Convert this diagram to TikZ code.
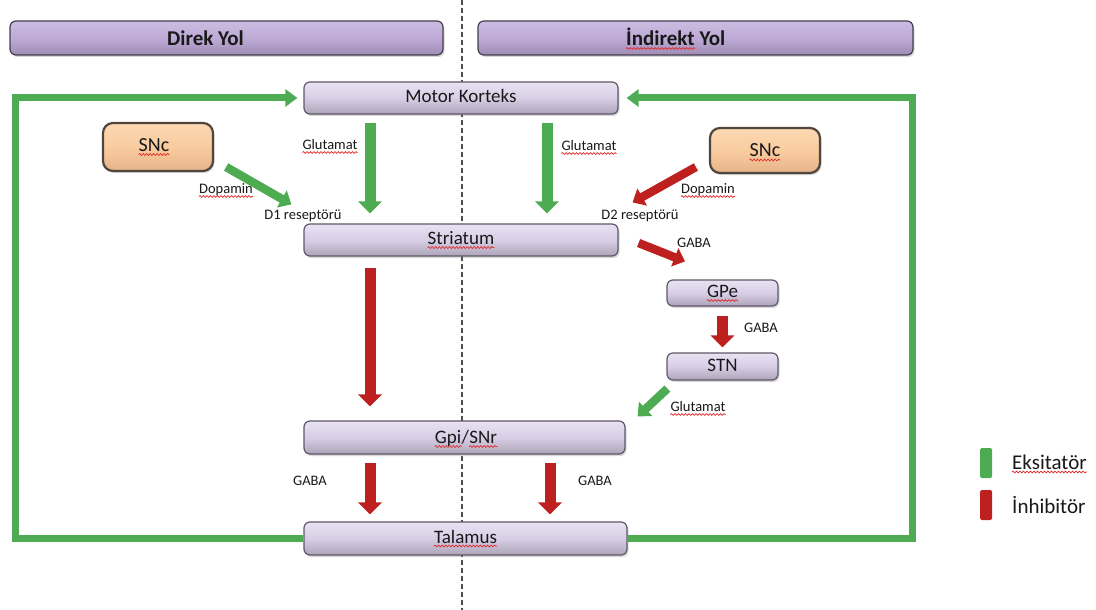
\documentclass[tikz,border=0pt]{standalone}
\usepackage{fontspec}
\setmainfont{Carlito}
\usetikzlibrary{arrows.meta,shadows,decorations.pathmorphing}
\definecolor{spellred}{RGB}{225,40,40}
\definecolor{grn}{RGB}{77,172,82}
\definecolor{rd}{RGB}{190,32,32}
\definecolor{txt}{RGB}{25,25,25}
\definecolor{boxtop}{RGB}{232,226,242}
\definecolor{boxmid}{RGB}{216,206,230}
\definecolor{boxbot}{RGB}{172,164,184}
\definecolor{boxedge}{RGB}{95,88,105}
\definecolor{hdrtop}{RGB}{204,188,226}
\definecolor{hdrmid}{RGB}{189,170,214}
\definecolor{hdrbot}{RGB}{158,140,180}
\definecolor{hdredge}{RGB}{70,62,78}
\definecolor{snctop}{RGB}{252,216,178}
\definecolor{sncmid}{RGB}{249,204,160}
\definecolor{sncbot}{RGB}{228,180,136}
\definecolor{sncedge}{RGB}{80,70,62}
\definecolor{dashc}{RGB}{80,80,80}
\newcommand\wavy[1]{\draw[wave] ([yshift=-3pt]#1.base west) -- ([yshift=-3pt]#1.base east);}
\begin{document}
\begin{tikzpicture}[x=1pt,y=-1pt,
  box/.style={draw=boxedge, line width=1.2pt, rounded corners=6pt,
    top color=boxtop, bottom color=boxbot, middle color=boxmid,
    drop shadow={opacity=0.3,shadow xshift=1.5pt,shadow yshift=-2pt}, inner sep=0pt},
  bt/.style={font=\fontsize{19}{22}\selectfont, text=txt, inner sep=0pt, text height=12.5pt, text depth=3.5pt},
  hdr/.style={draw=hdredge, line width=1.2pt, rounded corners=6pt,
    top color=hdrtop, bottom color=hdrbot, middle color=hdrmid,
    drop shadow={opacity=0.3,shadow xshift=1.5pt,shadow yshift=-2pt}, inner sep=0pt},
  hdrtxt/.style={font=\fontsize{21}{24}\selectfont\bfseries, text=txt, inner sep=0pt, anchor=base west},
  snc/.style={draw=sncedge, line width=2.2pt, rounded corners=10pt,
    top color=snctop, bottom color=sncbot, middle color=sncmid,
    drop shadow={opacity=0.3,shadow xshift=1.5pt,shadow yshift=-2pt}, inner sep=0pt},
  snct/.style={font=\fontsize{20}{23}\selectfont, text=txt, inner sep=0pt, text height=13pt, text depth=0pt},
  lbl/.style={font=\fontsize{14.5}{17}\selectfont, text=txt, inner sep=0pt, text height=10pt, text depth=3pt},
  leg/.style={font=\fontsize{21}{24}\selectfont, text=txt, inner sep=0pt, anchor=west, text height=14pt, text depth=4pt},
  wave/.style={draw=spellred, line width=0.7pt, decorate, decoration={snake, amplitude=0.9pt, segment length=3.5pt}},
  arrG/.style={draw=grn, line width=11pt, -{Triangle[width=23pt,length=12pt]}},
  arrR/.style={draw=rd, line width=11pt, -{Triangle[width=23pt,length=12pt]}},
  arrGd/.style={draw=grn, line width=8.5pt, -{Triangle[width=19pt,length=11pt]}},
  arrRd/.style={draw=rd, line width=8.5pt, -{Triangle[width=19pt,length=11pt]}},
  fb/.style={draw=grn, line width=7pt, line join=miter, -{Triangle[width=17pt,length=12pt]}},
  dashline/.style={draw=dashc, line width=1.4pt, dash pattern=on 5pt off 3pt},
  legbar/.style={rounded corners=1.5pt, minimum width=12pt, minimum height=30pt, inner sep=0pt}
]
\fill[white] (0,0) rectangle (1096,610);
\useasboundingbox (0,0) rectangle (1096,610);

% dashed divider
\coordinate (dtop) at (462,0);
\coordinate (dbot) at (462,610);
\draw[dashline] (dtop) -- (dbot);

% headers
\node[hdr, minimum width=433pt, minimum height=34pt] (hd1) at (226.5,38) {};
\node[hdr, minimum width=435pt, minimum height=34pt] (hd2) at (695.5,38) {};
\node[hdrtxt] (hd1t) at (167,45.5) {Direk Yol};
\node[hdrtxt] (hd2a) at (626,45.5) {İndirekt};
\node[hdrtxt] (hd2b) at ([xshift=4.7pt]hd2a.base east) {Yol};
\wavy{hd2a}

% boxes
\node[box, minimum width=314pt, minimum height=32pt] (mk) at (461,98) {};
\node[box, minimum width=314pt, minimum height=32pt] (st) at (461,240) {};
\node[box, minimum width=321pt, minimum height=33pt] (gpi) at (464.5,437.5) {};
\node[box, minimum width=323pt, minimum height=33pt] (tal) at (465.5,538.5) {};
\node[box, minimum width=111pt, minimum height=26pt] (gpe) at (722.5,293) {};
\node[box, minimum width=111pt, minimum height=27pt] (stn) at (722.5,366.5) {};
\node[snc, minimum width=110pt, minimum height=48pt] (snc1) at (158,147) {};
\node[snc, minimum width=110pt, minimum height=45pt] (snc2) at (765,150.5) {};

% box texts
\node[bt] (mkt) at (mk) {Motor Korteks};
\node[bt] (stt) at (st) {Striatum};
\node[bt, anchor=base east] (gpit1) at ([xshift=-3pt,yshift=-6pt]gpi.center) {Gpi};
\node[bt, anchor=base west] (gpit2) at (gpit1.base east) {/};
\node[bt, anchor=base west] (gpit3) at (gpit2.base east) {SNr};
\node[bt] (talt) at (tal) {Talamus};
\node[bt] (gpet) at (gpe) {GPe};
\node[bt] (stnt) at (stn) {STN};
\node[snct] (snc1t) at ([xshift=-4pt,yshift=2pt]snc1.center) {SNc};
\node[snct] (snc2t) at (snc2) {SNc};
\wavy{stt}\wavy{gpit1}\wavy{gpit3}\wavy{talt}\wavy{gpet}\wavy{snc1t}\wavy{snc2t}

% feedback loops
\coordinate (fbL) at (15,0);
\coordinate (fbR) at (912,0);
\draw[fb] (tal.west) -- (tal.west -| fbL) -- (mk.west -| fbL) -- ([xshift=-6pt]mk.west);
\draw[fb] (tal.east) -- (tal.east -| fbR) -- (mk.east -| fbR) -- ([xshift=8pt]mk.east);

% direct pathway arrows
\draw[arrG] ([xshift=-91pt,yshift=-8pt]mk.south) -- ([xshift=-91pt,yshift=10pt]st.north);
\draw[arrGd] ([xshift=12pt,yshift=-20pt]snc1.east) -- ([xshift=-12pt,yshift=19pt]st.north west);
\draw[arrR] ([xshift=-91pt,yshift=-11pt]st.south) -- ([xshift=-94.5pt,yshift=14pt]gpi.north);
\draw[arrR] ([xshift=-94.5pt,yshift=-8pt]gpi.south) -- ([xshift=-95.5pt,yshift=7pt]tal.north);

% indirect pathway arrows
\draw[arrG] ([xshift=86pt,yshift=-8pt]mk.south) -- ([xshift=86pt,yshift=10pt]st.north);
\draw[arrRd] ([xshift=-13pt,yshift=-16.5pt]snc2.west) -- ([xshift=14pt,yshift=21pt]st.north east);
\draw[arrRd] ([xshift=20pt,yshift=-3pt]st.east) -- ([xshift=-37.5pt,yshift=18pt]gpe.north);
\draw[arrR] ([yshift=-9pt]gpe.south) -- ([yshift=5pt]stn.north);
\draw[arrGd] ([xshift=1pt,yshift=-8pt]stn.south west) -- ([xshift=12pt,yshift=4pt]gpi.north east);
\draw[arrR] ([xshift=85.5pt,yshift=-8pt]gpi.south) -- ([xshift=84.5pt,yshift=7pt]tal.north);

% labels
\node[lbl] (l1) at (330,146) {Glutamat};
\node[lbl] (l2) at (589,147) {Glutamat};
\node[lbl] (l3) at (226,190) {Dopamin};
\node[lbl] (l4) at (303,216) {D1 reseptörü};
\node[lbl] (l5) at (708,190) {Dopamin};
\node[lbl] (l6) at (640,216) {D2 reseptörü};
\node[lbl] (l7) at (694,244) {GABA};
\node[lbl] (l8) at (761,329) {GABA};
\node[lbl] (l9) at (698,408) {Glutamat};
\node[lbl] (l10) at (310,482) {GABA};
\node[lbl] (l11) at (595,482) {GABA};
\wavy{l1}\wavy{l2}\wavy{l3}\wavy{l5}\wavy{l9}

% legend
\node[legbar, fill=grn] (lgG) at (986,463) {};
\node[legbar, fill=rd] (lgR) at (986,505) {};
\node[leg] (lgGt) at (1012,464) {Eksitatör};
\node[leg] (lgRt) at (1012,508) {İnhibitör};
\wavy{lgGt}
\end{tikzpicture}
\end{document}
